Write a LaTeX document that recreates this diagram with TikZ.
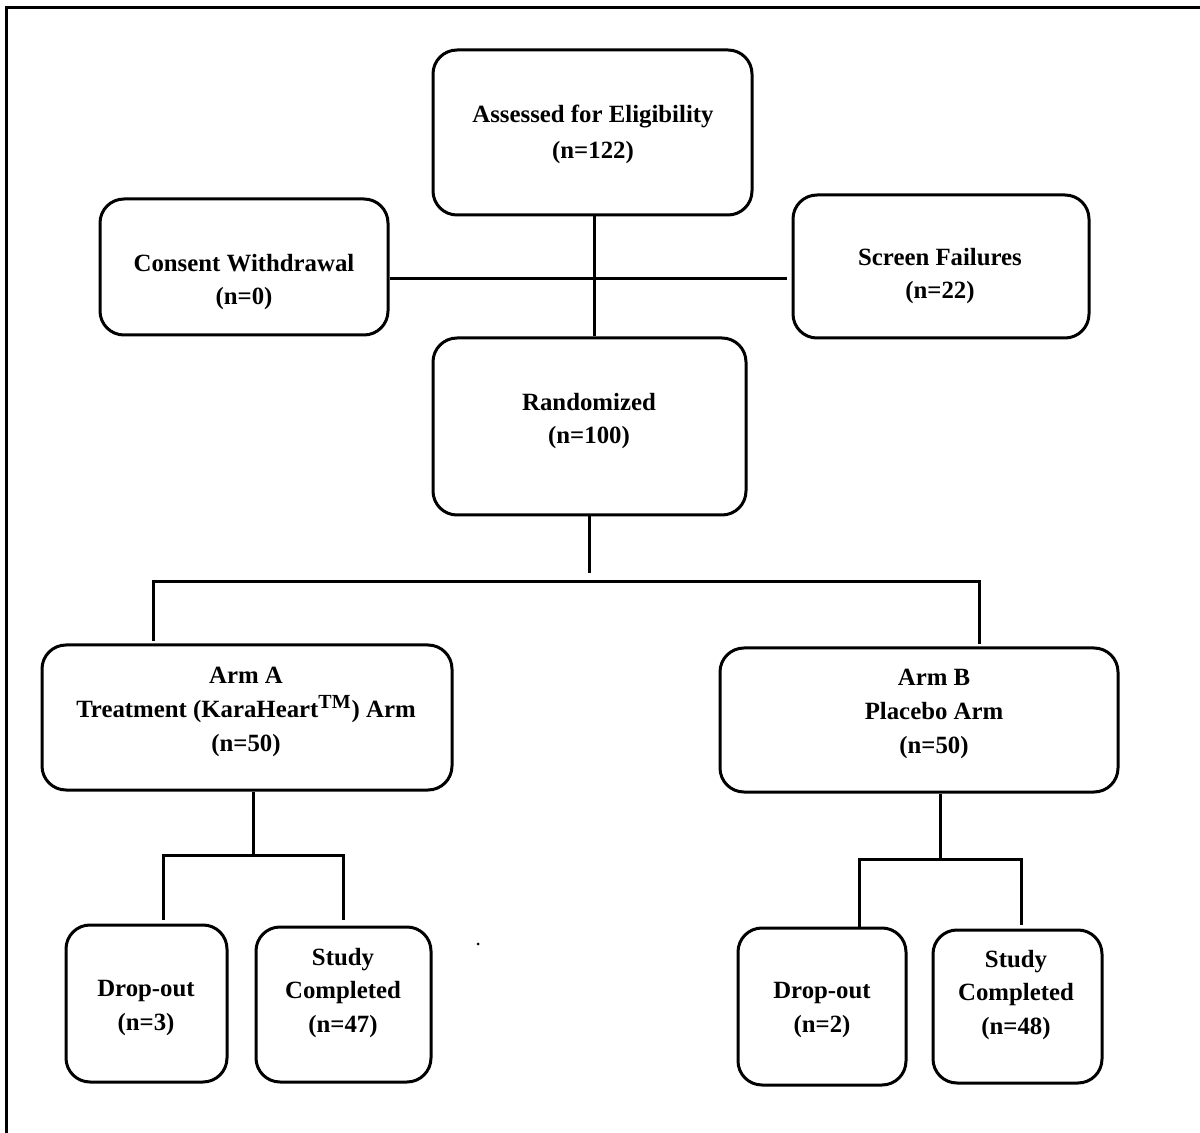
\documentclass[tikz,border=0pt]{standalone}
\usepackage{fontspec}
\setmainfont{Liberation Serif}
\begin{document}
\begin{tikzpicture}[x=0.5pt,y=-0.5pt,
  box/.style={draw, line width=1.5pt, rounded corners=12pt, inner sep=0pt},
  lbl/.style={font=\fontsize{12.4}{16.8}\selectfont\bfseries, align=center, inner sep=0pt, yshift=-1.5pt},
  conn/.style={line width=1.5pt}]
\useasboundingbox (0,0) rectangle (1200,1133);
\draw[line width=1.5pt] (6,1145) -- (6,8) -- (1212,8);

% boxes
\node[box, minimum width=159.5pt, minimum height=82.5pt] (ae) at (592.5,132.5) {};
\node[box, minimum width=144pt, minimum height=68pt] (cw) at (244,267) {};
\node[box, minimum width=148pt, minimum height=71.5pt] (sf) at (941,266.5) {};
\node[box, minimum width=156.5pt, minimum height=88.5pt] (rz) at (589.5,426.5) {};
\node[box, minimum width=205pt, minimum height=72.5pt] (armA) at (247,717.5) {};
\node[box, minimum width=199pt, minimum height=72pt] (armB) at (919,720) {};
\node[box, minimum width=80.5pt, minimum height=78.5pt] (dropA) at (146.5,1003.5) {};
\node[box, minimum width=87.5pt, minimum height=77.5pt] (studyA) at (343.5,1004.5) {};
\node[box, minimum width=84pt, minimum height=78.5pt] (dropB) at (822,1006.5) {};
\node[box, minimum width=84.5pt, minimum height=76.5pt] (studyB) at (1017.5,1006.5) {};

% labels
\node[lbl, font=\fontsize{12.4}{18}\selectfont\bfseries] (aeT) at (593,131) {Assessed for Eligibility\\(n=122)};
\node[lbl] (cwT) at (244,279) {Consent Withdrawal\\(n=0)};
\node[lbl] (sfT) at (940,273) {Screen Failures\\(n=22)};
\node[lbl] (rzT) at (589,418) {Randomized\\(n=100)};
\node[lbl] (armAT) at (246,709) {Arm A\\Treatment (KaraHeart\textsuperscript{\fontsize{10}{10}\selectfont TM}) Arm\\(n=50)};
\node[lbl] (armBT) at (934,711) {Arm B\\Placebo Arm\\(n=50)};
\node[lbl] (dropAT) at (146,1005) {Drop-out\\(n=3)};
\node[lbl] (studyAT) at (343,990) {Study\\Completed\\(n=47)};
\node[lbl] (dropBT) at (822,1007) {Drop-out\\(n=2)};
\node[lbl] (studyBT) at (1016,992) {Study\\Completed\\(n=48)};

% connector coordinates
\coordinate (h1) at (594,279);
\coordinate (rzEnd) at (589,573);
\coordinate (barL) at (153,582);
\coordinate (barR) at (979,582);
\coordinate (aSplit) at (253,855);
\coordinate (aL) at (163,855);
\coordinate (aR) at (343,855);
\coordinate (bSplit) at (940,859);
\coordinate (bL) at (859,859);
\coordinate (bR) at (1021,859);

% connectors
\draw[conn] (ae.south -| h1) -- (rz.north -| h1);
\draw[conn] (cw.east |- h1) -- ([xshift=-2.5pt]sf.west |- h1);
\draw[conn] (rz.south -| rzEnd) -- (rzEnd);
\draw[conn] ([yshift=1pt]armA.north -| barL) -- (barL) -- (barR) -- ([yshift=1pt]armB.north -| barR);
\draw[conn] (armA.south -| aSplit) -- (aSplit);
\draw[conn] ([yshift=2pt]dropA.north -| aL) -- (aL) -- (aR) -- ([yshift=3pt]studyA.north -| aR);
\draw[conn] (armB.south -| bSplit) -- (bSplit);
\draw[conn] (dropB.north -| bL) -- (bL) -- (bR) -- ([yshift=2pt]studyB.north -| bR);

% stray dot
\fill (478,944) circle (1.5);
\end{tikzpicture}
\end{document}
